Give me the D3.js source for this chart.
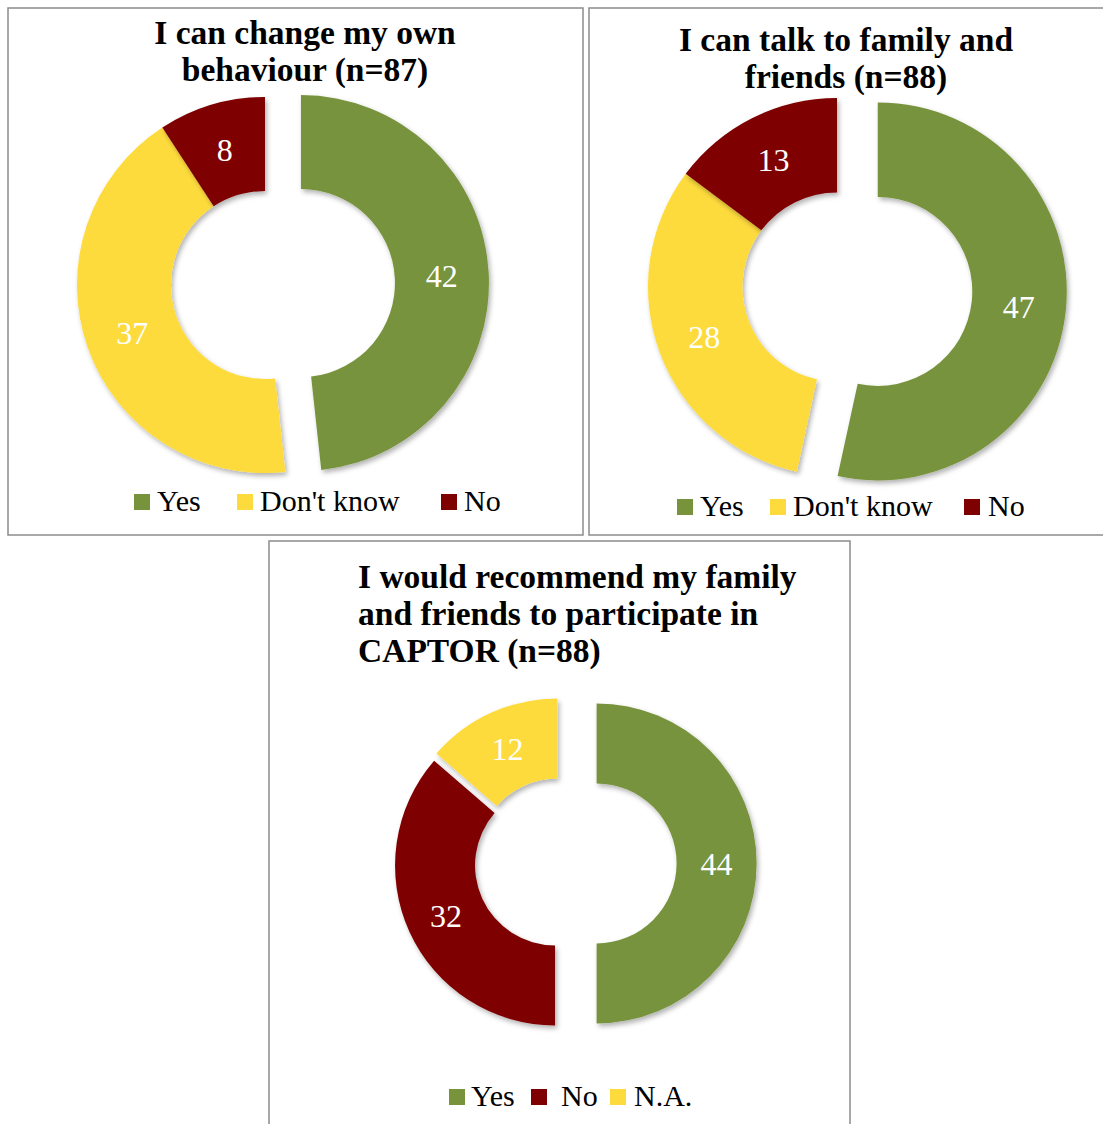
<!DOCTYPE html>
<html>
<head>
<meta charset="utf-8">
<script src="https://cdn.jsdelivr.net/npm/d3@7"></script>
<style>
  body { margin: 0; background: #ffffff; }
</style>
</head>
<body>
<svg id="chart" width="1103" height="1124"></svg>
<script>
// dati
var changeCategories = ["Yes", "Don't know", "No"]
var changeValues = [42, 37, 8]

var talkCategories = ["Yes", "Don't know", "No"]
var talkValues = [47, 28, 13]

var recommendCategories = ["Yes", "No", "N.A."]
var recommendValues = [44, 32, 12]

var colorOf = {"Yes": "#77933c", "Don't know": "#fedb3d", "No": "#7f0000", "N.A.": "#fedb3d"}

var svg = d3.select("#chart")

// ombra leggera sotto le fette
var defs = svg.append("defs")
defs.append("filter")
  .attr("id", "shadow")
  .attr("x", "-20%").attr("y", "-20%")
  .attr("width", "140%").attr("height", "140%")
  .append("feDropShadow")
  .attr("dx", 2).attr("dy", 3)
  .attr("stdDeviation", 2.5)
  .attr("flood-color", "#000")
  .attr("flood-opacity", 0.3)

var panels = [
  {
    box: [8, 8, 575, 527],
    title: ["I can change my own", "behaviour (n=87)"],
    titleX: 305, titleY: 44, titleAnchor: "middle",
    cx: 265, cy: 285, r: 188,
    explode: [36, 0, 0],
    categories: changeCategories, values: changeValues,
    legendSquares: [134, 237, 441], legendTexts: [157, 260, 464], legendY: 511
  },
  {
    box: [589, 8, 520, 527],
    title: ["I can talk to family and", "friends (n=88)"],
    titleX: 846, titleY: 51, titleAnchor: "middle",
    cx: 837, cy: 287, r: 189,
    explode: [41, 0, 0],
    categories: talkCategories, values: talkValues,
    legendSquares: [677, 770, 964], legendTexts: [700, 793, 988], legendY: 516
  },
  {
    box: [269, 541, 581, 590],
    title: ["I would recommend my family", "and friends to participate in", "CAPTOR (n=88)"],
    titleX: 358, titleY: 588, titleAnchor: "start",
    cx: 559.6, cy: 863.4, r: 160,
    explode: [37, 5, 5.5],
    categories: recommendCategories, values: recommendValues,
    legendSquares: [449, 531, 610], legendTexts: [471, 561, 634], legendY: 1106
  }
]

var font = "'Liberation Serif', 'Times New Roman', serif"

panels.forEach(function (p) {

  // cornice
  svg.append("rect")
    .attr("x", p.box[0]).attr("y", p.box[1])
    .attr("width", p.box[2]).attr("height", p.box[3])
    .style("fill", "none")
    .style("stroke", "#8c8c8c")
    .style("stroke-width", 1.5)

  // titolo
  var title = svg.append("text")
    .attr("text-anchor", p.titleAnchor)
    .style("font-family", font)
    .style("font-weight", "bold")
    .style("font-size", "33.5px")
    .style("fill", "#000")
  p.title.forEach(function (line, i) {
    title.append("tspan")
      .attr("x", p.titleX)
      .attr("y", p.titleY + i * 37)
      .text(line)
  })

  var pie = d3.pie().sort(null).startAngle(0).endAngle(2 * Math.PI)
  var arcs = pie(p.values)

  var arc = d3.arc()
    .innerRadius(p.r * 0.5)
    .outerRadius(p.r)

  var g = svg.append("g")
    .attr("transform", "translate(" + p.cx + "," + p.cy + ")")

  var slice = g.selectAll("g.slice")
    .data(arcs)
    .enter()
    .append("g")
    .attr("class", "slice")
    .attr("transform", function (d, i) {
      var mid = (d.startAngle + d.endAngle) / 2
      var off = p.explode[i]
      return "translate(" + (off * Math.sin(mid)) + "," + (-off * Math.cos(mid)) + ")"
    })

  slice.append("path")
    .attr("d", arc)
    .attr("filter", "url(#shadow)")
    .style("fill", function (d, i) { return colorOf[p.categories[i]] })

  slice.append("text")
    .attr("transform", function (d) { return "translate(" + arc.centroid(d) + ")" })
    .attr("dy", "0.35em")
    .attr("text-anchor", "middle")
    .style("font-family", font)
    .style("font-size", "32px")
    .style("fill", "#ffffff")
    .text(function (d) { return d.data })

  // legenda
  p.categories.forEach(function (c, i) {
    svg.append("rect")
      .attr("x", p.legendSquares[i])
      .attr("y", p.legendY - 17)
      .attr("width", 16).attr("height", 16)
      .style("fill", colorOf[c])
    svg.append("text")
      .attr("x", p.legendTexts[i])
      .attr("y", p.legendY)
      .style("font-family", font)
      .style("font-size", "30px")
      .style("fill", "#000")
      .text(c)
  })
})
</script>
</body>
</html>
